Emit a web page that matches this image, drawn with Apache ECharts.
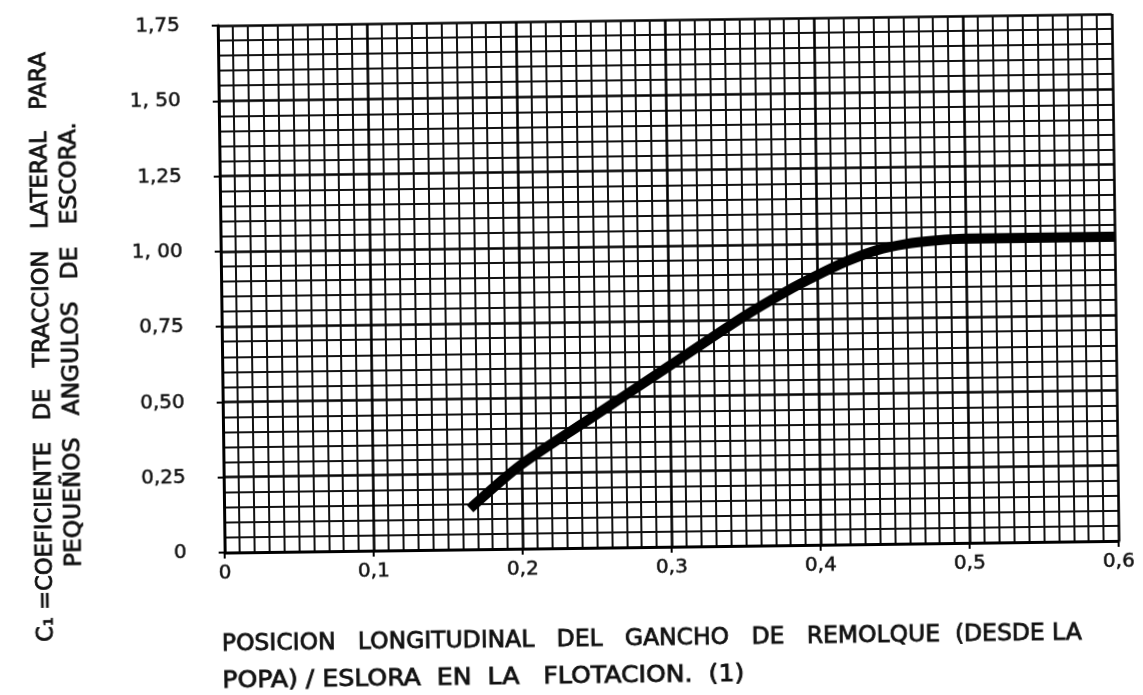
<!DOCTYPE html>
<html>
<head>
<meta charset="utf-8">
<script src="https://cdn.jsdelivr.net/npm/echarts@6/dist/echarts.min.js"></script>
<style>
  html, body { margin: 0; padding: 0; background: #fff; }
  #chart { width: 1143px; height: 695px; transform: rotate(-0.75deg); }
</style>
</head>
<body>
<div id="chart"></div>
<script>
// hook position / waterline length
const hookPos = [0.165, 0.2, 0.25, 0.3, 0.35, 0.38, 0.4, 0.42, 0.44, 0.46, 0.48, 0.5, 0.55, 0.6];
// C1 lateral pull coefficient
const c1Vals = [0.135, 0.28, 0.44, 0.6, 0.76, 0.845, 0.895, 0.94, 0.975, 0.995, 1.005, 1.01, 1.01, 1.01];

const xTickLabels = ["0", "0,1", "0,2", "0,3", "0,4", "0,5", "0,6"];
const yTickLabels = ["0", "0,25", "0,50", "0,75", "1, 00", "1,25", "1, 50", "1,75"];

const xName1 = "POSICION   LONGITUDINAL   DEL   GANCHO   DE   REMOLQUE  (DESDE LA";
const xName2 = "POPA) / ESLORA  EN  LA   FLOTACION.  (1)";
const yName1 = "C\u2081 =COEFICIENTE   DE   TRACCION   LATERAL   PARA";
const yName2 = "PEQUEÑOS   ANGULOS   DE   ESCORA.";

const nameFont = "23px 'DejaVu Sans'";

// squeeze a text line so it covers the given length
const measureCtx = document.createElement("canvas").getContext("2d");
function squeeze(text, len) {
  measureCtx.font = nameFont;
  return len / measureCtx.measureText(text).width;
}

function nameStyle(text, extra) {
  return Object.assign({ text: text, font: nameFont, fill: "#111", stroke: "#111", lineWidth: 0.8 }, extra);
}

const chart = echarts.init(document.getElementById("chart"));

const tickFont = {
  fontFamily: "DejaVu Sans", fontSize: 20, color: "#111",
  textBorderColor: "#111", textBorderWidth: 0.5
};

chart.setOption({
  backgroundColor: "#fff",
  animation: false,
  grid: { left: 222, right: 27, top: 21, bottom: 147 },
  xAxis: {
    type: "value",
    min: 0,
    max: 0.6,
    interval: 0.1,
    axisLine: { show: true, lineStyle: { color: "#000", width: 3 } },
    axisTick: { show: true, length: 6, lineStyle: { color: "#000", width: 2 } },
    axisLabel: {
      ...tickFont,
      margin: 11,
      formatter: (v) => xTickLabels[Math.round(v / 0.1)]
    },
    splitLine: { show: true, lineStyle: { color: "#000", width: 2.6 } },
    minorTick: { show: false, splitNumber: 10 },
    minorSplitLine: { show: true, lineStyle: { color: "#111", width: 2 } }
  },
  yAxis: {
    type: "value",
    min: 0,
    max: 1.75,
    interval: 0.25,
    axisLine: { show: true, lineStyle: { color: "#000", width: 3 } },
    axisTick: { show: true, length: 6, lineStyle: { color: "#000", width: 2 } },
    axisLabel: {
      ...tickFont,
      margin: 38,
      formatter: (v) => yTickLabels[Math.round(v / 0.25)]
    },
    splitLine: { show: true, lineStyle: { color: "#000", width: 2.6 } },
    minorTick: { show: false, splitNumber: 5 },
    minorSplitLine: { show: true, lineStyle: { color: "#111", width: 2 } }
  },
  graphic: [
    {
      type: "text",
      x: 218,
      y: 640,
      scaleX: squeeze(xName1, 860),
      style: nameStyle(xName1, { verticalAlign: "middle" })
    },
    {
      type: "text",
      x: 218,
      y: 677,
      scaleX: squeeze(xName2, 522),
      style: nameStyle(xName2, { verticalAlign: "middle" })
    },
    {
      type: "text",
      x: 43,
      y: 340,
      rotation: Math.PI / 2,
      scaleX: squeeze(yName1, 590),
      style: nameStyle(yName1, { align: "center", verticalAlign: "middle" })
    },
    {
      type: "text",
      x: 72,
      y: 338,
      rotation: Math.PI / 2,
      scaleX: squeeze(yName2, 445),
      style: nameStyle(yName2, { align: "center", verticalAlign: "middle" })
    }
  ],
  series: [
    {
      type: "line",
      data: hookPos.map((x, i) => [x, c1Vals[i]]),
      smooth: 0.3,
      showSymbol: false,
      lineStyle: { color: "#000", width: 10 },
      z: 5
    }
  ]
});
</script>
</body>
</html>
